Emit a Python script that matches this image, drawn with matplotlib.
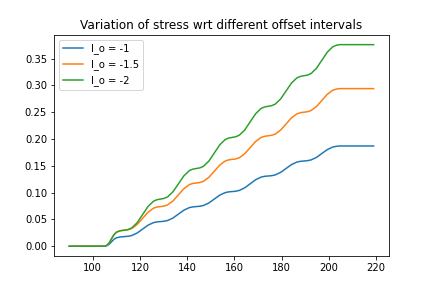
import matplotlib
matplotlib.use("Agg")
import matplotlib.pyplot as plt

# offset positions
x = [90, 95, 100, 105, 106, 107, 108, 109, 110, 111.5,
     113.5, 115.0, 116.5, 118.8, 121.1, 123.4, 125.7, 127.2,
     128.7, 130.2, 131.7, 134.0, 136.3, 138.6, 140.9, 142.4,
     143.9, 145.4, 146.9, 149.2, 151.5, 153.8, 156.1, 157.6,
     159.1, 160.6, 162.1, 164.4, 166.7, 169.0, 171.3, 172.8,
     174.3, 175.8, 177.3, 179.6, 181.9, 184.2, 186.5, 188.0,
     189.5, 191.0, 192.5, 194.8, 197.1, 199.4, 201.7, 203.2,
     204.7, 208, 212, 216, 219]

stress_1 = [0, 0, 0, 0, 0.0011, 0.0040, 0.0086, 0.0130, 0.0157, 0.0173,
            0.018, 0.0186, 0.020, 0.0247, 0.032, 0.0393, 0.044, 0.0454,
            0.046, 0.0466, 0.048, 0.0527, 0.060, 0.0673, 0.072, 0.0734,
            0.074, 0.0746, 0.076, 0.0807, 0.088, 0.0953, 0.100, 0.1014,
            0.102, 0.1026, 0.1041, 0.109, 0.1165, 0.124, 0.1289, 0.1304,
            0.131, 0.1316, 0.133, 0.1377, 0.145, 0.1523, 0.157, 0.1584,
            0.159, 0.1596, 0.161, 0.1657, 0.173, 0.1803, 0.185, 0.1864,
            0.187, 0.187, 0.187, 0.187, 0.187]

stress_15 = [0, 0, 0, 0, 0.0018, 0.0066, 0.0144, 0.0216, 0.0261, 0.0288,
             0.030, 0.0309, 0.0331, 0.0406, 0.052, 0.0634, 0.0709, 0.0731,
             0.074, 0.0749, 0.0771, 0.0846, 0.096, 0.1074, 0.1149, 0.1171,
             0.118, 0.1189, 0.1211, 0.1286, 0.140, 0.1514, 0.1589, 0.1611,
             0.162, 0.1629, 0.1651, 0.1726, 0.184, 0.1954, 0.2029, 0.2051,
             0.206, 0.2069, 0.2091, 0.2166, 0.228, 0.2394, 0.2469, 0.2491,
             0.250, 0.2509, 0.2531, 0.2606, 0.272, 0.2834, 0.2909, 0.2931,
             0.294, 0.294, 0.294, 0.294, 0.294]

stress_2 = [0, 0, 0, 0, 0.0018, 0.0066, 0.0144, 0.0216, 0.0261, 0.0288,
            0.030, 0.0312, 0.0341, 0.0439, 0.059, 0.0741, 0.0839, 0.0868,
            0.088, 0.0892, 0.0920, 0.1017, 0.1165, 0.1313, 0.1410, 0.1438,
            0.145, 0.1462, 0.1491, 0.1589, 0.174, 0.1891, 0.1989, 0.2018,
            0.203, 0.2042, 0.2071, 0.2169, 0.232, 0.2471, 0.2569, 0.2598,
            0.261, 0.2622, 0.2650, 0.2747, 0.2895, 0.3043, 0.3140, 0.3168,
            0.318, 0.3192, 0.3221, 0.3319, 0.347, 0.3621, 0.3719, 0.3748,
            0.376, 0.376, 0.376, 0.376, 0.376]

labels = ["l_o = -1", "l_o = -1.5", "l_o = -2"]

plt.figure(figsize=(6, 4), dpi=72)
plt.plot(x, stress_1, label=labels[0])
plt.plot(x, stress_15, label=labels[1])
plt.plot(x, stress_2, label=labels[2])
plt.title("Variation of stress wrt different offset intervals")
plt.legend()
plt.savefig("out.png", dpi=72)
